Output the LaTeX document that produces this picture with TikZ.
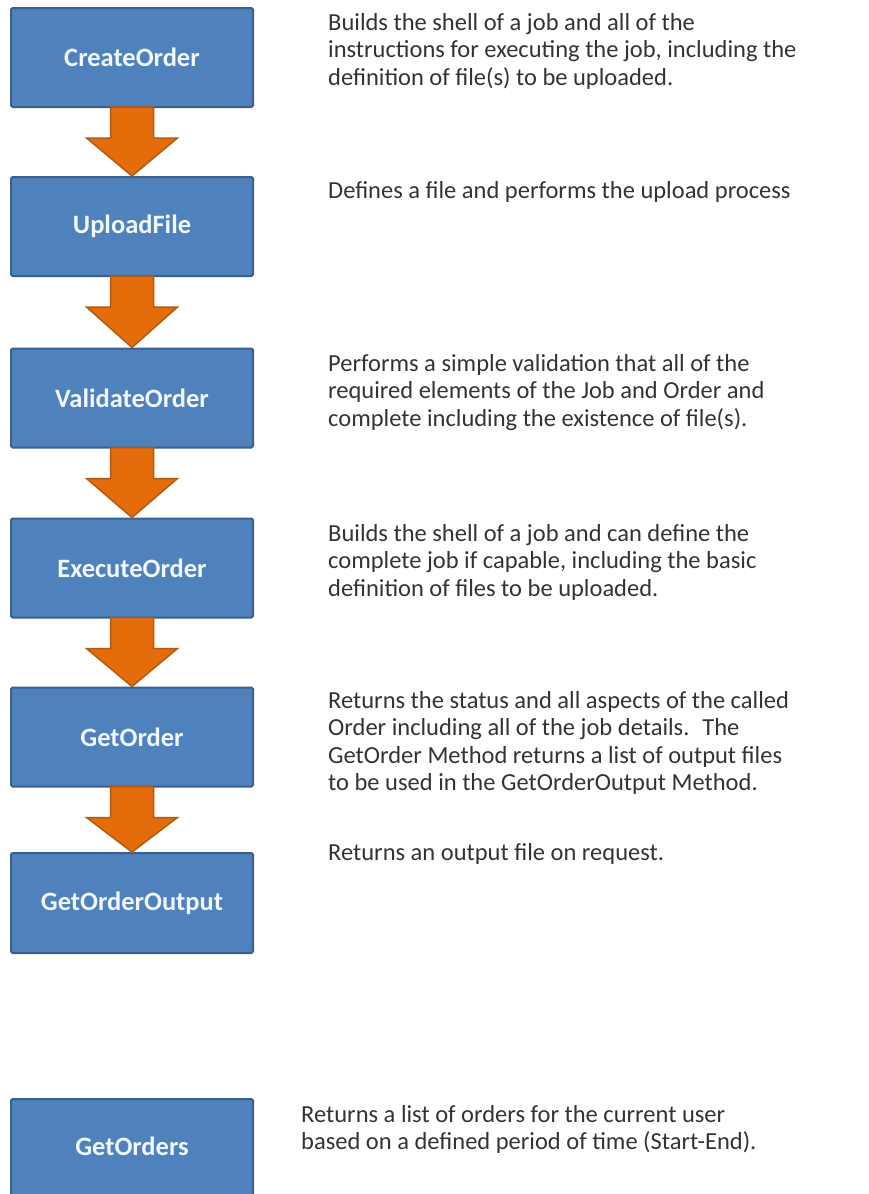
\documentclass[tikz,border=0pt]{standalone}
\usepackage{fontspec}
\setmainfont{Carlito}
\usetikzlibrary{calc}
\definecolor{boxfill}{HTML}{4F81BD}
\definecolor{boxline}{HTML}{3A6090}
\definecolor{arrfill}{HTML}{E46C0A}
\definecolor{arrline}{HTML}{B35A10}
\definecolor{desc}{HTML}{333333}
\definecolor{lbl}{HTML}{F2F8FF}
\tikzset{
  stepbox/.style={draw=boxline, fill=boxfill, line width=2pt, rounded corners=1.5pt,
    minimum width=242pt, minimum height=99pt, inner sep=0pt,
    text=lbl, font=\fontsize{26.5}{30}\selectfont\bfseries},
  desctext/.style={anchor=base west, inner sep=0pt, text=desc,
    font=\fontsize{24.5}{27.5}\selectfont},
  barrow/.style={draw=arrline, fill=arrfill, line width=1.5pt, line join=miter}
}
\newcommand{\blockarrow}[2]{%
  \draw[barrow] ($(#1.south)+(-21.5,-1)$) -- ($(#1.south)+(-21.5,30)$) -- ($(#1.south)+(-45.5,30)$)
    -- (#2.north) -- ($(#1.south)+(45.5,30)$) -- ($(#1.south)+(21.5,30)$) -- ($(#1.south)+(21.5,-1)$) -- cycle;}
\begin{document}
\begin{tikzpicture}[x=1pt,y=-1pt]
\useasboundingbox (0,0) rectangle (869,1194);
\clip (0,0) rectangle (869,1194);
\node[stepbox] (b1) at (132,57.5) {CreateOrder};
\node[stepbox] (b2) at (132,226.5) {UploadFile};
\node[stepbox] (b3) at (132,398) {ValidateOrder};
\node[stepbox] (b4) at (132,568) {ExecuteOrder};
\node[stepbox] (b5) at (132,737) {GetOrder};
\node[stepbox, minimum height=100pt] (b6) at (132,903) {GetOrderOutput};
\node[stepbox, minimum height=100pt] (b7) at (132,1149) {\raisebox{6pt}{GetOrders}};
\blockarrow{b1}{b2}
\blockarrow{b2}{b3}
\blockarrow{b3}{b4}
\blockarrow{b4}{b5}
\blockarrow{b5}{b6}
\node[desctext] (t1) at (328,30) {\begin{tabular}[t]{@{}l@{}}Builds the shell of a job and all of the\\instructions for executing the job, including the\\definition of file(s) to be uploaded.\end{tabular}};
\node[desctext] (t2) at (328,198) {\begin{tabular}[t]{@{}l@{}}Defines a file and performs the upload process\end{tabular}};
\node[desctext] (t3) at (328,371) {\begin{tabular}[t]{@{}l@{}}Performs a simple validation that all of the\\required elements of the Job and Order and\\complete including the existence of file(s).\end{tabular}};
\node[desctext] (t4) at (328,541) {\begin{tabular}[t]{@{}l@{}}Builds the shell of a job and can define the\\complete job if capable, including the basic\\definition of files to be uploaded.\end{tabular}};
\node[desctext] (t5) at (328,708) {\begin{tabular}[t]{@{}l@{}}Returns the status and all aspects of the called\\Order including all of the job details.~ The\\GetOrder Method returns a list of output files\\to be used in the GetOrderOutput Method.\end{tabular}};
\node[desctext] (t6) at (328,860) {\begin{tabular}[t]{@{}l@{}}Returns an output file on request.\end{tabular}};
\node[desctext] (t7) at (301,1122) {\begin{tabular}[t]{@{}l@{}}Returns a list of orders for the current user\\based on a defined period of time (Start-End).\end{tabular}};
\end{tikzpicture}
\end{document}
